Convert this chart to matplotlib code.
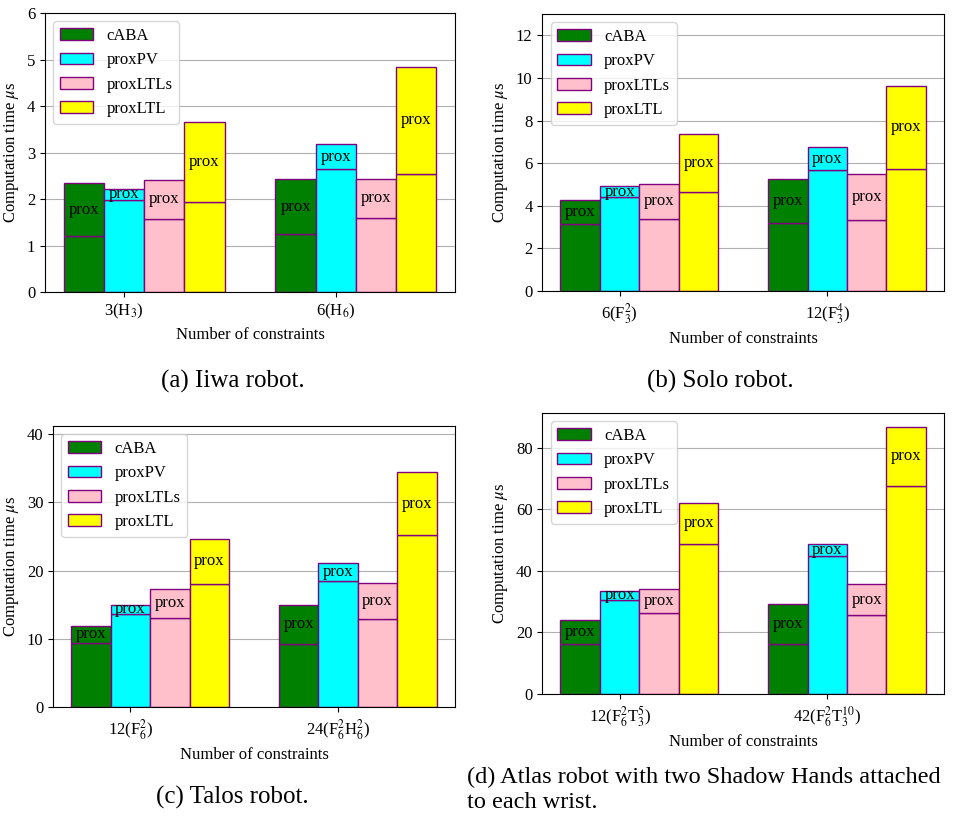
import numpy as np
import matplotlib
matplotlib.use("Agg")
import matplotlib.pyplot as plt

plt.rcParams["font.family"] = "serif"
plt.rcParams["font.serif"] = ["Liberation Serif", "DejaVu Serif"]
plt.rcParams["mathtext.fontset"] = "stix"
plt.rcParams["font.size"] = 12

methods = ["cABA", "proxPV", "proxLTLs", "proxLTL"]
colors = ["green", "cyan", "pink", "yellow"]

# (a) Iiwa
iiwa_ticks = [r"3(H$_3$)", r"6(H$_6$)"]
iiwa_total = [[2.35, 2.43], [2.21, 3.18], [2.42, 2.44], [3.65, 4.83]]
iiwa_base = [[1.20, 1.25], [1.99, 2.64], [1.58, 1.59], [1.94, 2.55]]

# (b) Solo
solo_ticks = [r"6(F$_3^2$)", r"12(F$_3^4$)"]
solo_total = [[4.26, 5.26], [4.92, 6.75], [5.00, 5.51], [7.36, 9.62]]
solo_base = [[3.13, 3.21], [4.40, 5.66], [3.40, 3.31], [4.65, 5.73]]

# (c) Talos
talos_ticks = [r"12(F$_6^2$)", r"24(F$_6^2$H$_6^2$)"]
talos_total = [[11.9, 15.0], [14.9, 21.1], [17.3, 18.2], [24.6, 34.4]]
talos_base = [[9.4, 9.3], [13.7, 18.5], [13.1, 12.9], [18.1, 25.2]]

# (d) Atlas + Shadow Hands
atlas_ticks = [r"12(F$_6^2$T$_3^5$)", r"42(F$_6^2$T$_3^{10}$)"]
atlas_total = [[24.2, 29.1], [33.5, 48.8], [34.1, 35.8], [62.2, 86.8]]
atlas_base = [[16.4, 16.2], [30.7, 44.8], [26.2, 25.6], [48.6, 67.7]]

fig = plt.figure(figsize=(9.58, 8.16), dpi=100)


def panel(rect, ticks, total, base, ymax):
    ax = fig.add_axes(rect)
    x = np.arange(len(ticks))
    w = 0.19
    for i, m in enumerate(methods):
        pos = x + (i - 1) * w
        b = np.array(base[i])
        t = np.array(total[i])
        ax.bar(pos, b, w, color=colors[i], edgecolor="purple", label=m)
        ax.bar(pos, t - b, w, bottom=b, color=colors[i], edgecolor="purple")
        for px, bb, tt in zip(pos, b, t):
            ax.text(px, (bb + tt) / 2, "prox", ha="center", va="center", fontsize=12)
    ax.set_xticks(x)
    ax.set_xticklabels(ticks)
    ax.set_ylim(0, ymax)
    ax.set_axisbelow(True)
    ax.yaxis.grid(True, color="#b0b0b0")
    ax.set_xlabel("Number of constraints")
    ax.set_ylabel(r"Computation time $\mu$s")
    ax.legend(loc="upper left")
    return ax


panel([0.047, 0.642, 0.428, 0.342], iiwa_ticks, iiwa_total, iiwa_base, 6)
panel([0.566, 0.6434, 0.4196, 0.3395], solo_ticks, solo_total, solo_base, 13)
panel([0.0553, 0.1336, 0.4196, 0.3444], talos_ticks, talos_total, talos_base, 41.2)
panel([0.566, 0.1495, 0.4196, 0.3444], atlas_ticks, atlas_total, atlas_base, 91.3)

fig.text(233 / 958, 1 - 381 / 816, "(a) Iiwa robot.", ha="center", va="center", fontsize=18)
fig.text(720 / 958, 1 - 381 / 816, "(b) Solo robot.", ha="center", va="center", fontsize=18)
fig.text(232 / 958, 1 - 797 / 816, "(c) Talos robot.", ha="center", va="center", fontsize=18)
fig.text(467 / 958, 1 - 777 / 816, "(d) Atlas robot with two Shadow Hands attached",
         ha="left", va="center", fontsize=17.5)
fig.text(467 / 958, 1 - 803 / 816, "to each wrist.", ha="left", va="center", fontsize=17.5)

fig.savefig("out.png", dpi=100)
